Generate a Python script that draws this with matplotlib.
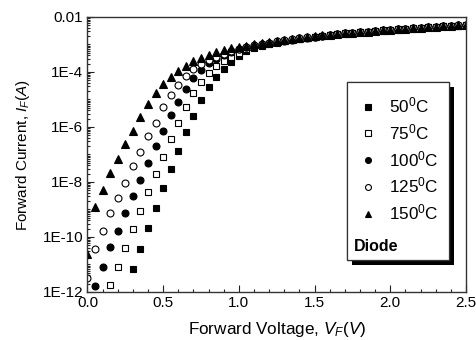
import numpy as np
import matplotlib
matplotlib.use('Agg')
import matplotlib.pyplot as plt
from matplotlib.patches import Rectangle
from matplotlib.ticker import FixedLocator, FixedFormatter, LogLocator, NullFormatter, MultipleLocator
from matplotlib import patheffects

plt.rcParams['font.family'] = ['Liberation Sans', 'DejaVu Sans']
plt.rcParams['mathtext.fontset'] = 'custom'
plt.rcParams['mathtext.rm'] = 'Liberation Sans'
plt.rcParams['mathtext.it'] = 'Liberation Sans:italic'
plt.rcParams['mathtext.bf'] = 'Liberation Sans:bold'

# forward voltage (V), one reading every 0.05 V
voltage = [0.00, 0.05, 0.10, 0.15, 0.20, 0.25, 0.30, 0.35, 0.40, 0.45,
           0.50, 0.55, 0.60, 0.65, 0.70, 0.75, 0.80, 0.85, 0.90, 0.95,
           1.00, 1.05, 1.10, 1.15, 1.20, 1.25, 1.30, 1.35, 1.40, 1.45,
           1.50, 1.55, 1.60, 1.65, 1.70, 1.75, 1.80, 1.85, 1.90, 1.95,
           2.00, 2.05, 2.10, 2.15, 2.20, 2.25, 2.30, 2.35, 2.40, 2.45,
           2.50]

# log10 of forward current (A); nan = below 1E-12
log_i_50 = [np.nan, np.nan, np.nan, np.nan, np.nan, np.nan, -11.15, -10.42, -9.69, -8.96,
            -8.23, -7.53, -6.86, -6.19, -5.60, -5.02, -4.56, -4.19, -3.90, -3.62,
            -3.42, -3.25, -3.13, -3.06, -3.00, -2.94, -2.89, -2.85, -2.80, -2.76,
            -2.72, -2.69, -2.66, -2.63, -2.61, -2.58, -2.56, -2.54, -2.52, -2.50,
            -2.48, -2.46, -2.44, -2.42, -2.40, -2.38, -2.36, -2.34, -2.33, -2.31,
            -2.29]
log_i_75 = [np.nan, np.nan, np.nan, -11.75, -11.08, -10.41, -9.71, -9.04, -8.37, -7.70,
            -7.10, -6.45, -5.84, -5.27, -4.76, -4.36, -4.05, -3.80, -3.60, -3.44,
            -3.30, -3.18, -3.09, -3.03, -2.97, -2.92, -2.87, -2.83, -2.79, -2.75,
            -2.72, -2.68, -2.66, -2.63, -2.60, -2.58, -2.56, -2.53, -2.51, -2.49,
            -2.47, -2.45, -2.43, -2.41, -2.39, -2.38, -2.36, -2.34, -2.32, -2.31,
            -2.29]
log_i_100 = [np.nan, -11.77, -11.08, -10.37, -9.77, -9.14, -8.50, -7.91, -7.31, -6.70,
             -6.14, -5.57, -5.10, -4.62, -4.23, -3.93, -3.69, -3.52, -3.38, -3.27,
             -3.17, -3.10, -3.04, -2.99, -2.94, -2.90, -2.86, -2.82, -2.78, -2.75,
             -2.71, -2.68, -2.65, -2.63, -2.60, -2.58, -2.55, -2.53, -2.51, -2.49,
             -2.47, -2.45, -2.43, -2.41, -2.39, -2.37, -2.35, -2.34, -2.32, -2.30,
             -2.28]
log_i_125 = [-11.50, -10.43, -9.77, -9.14, -8.59, -8.03, -7.42, -6.90, -6.32, -5.84,
             -5.28, -4.85, -4.47, -4.13, -3.90, -3.70, -3.56, -3.44, -3.34, -3.24,
             -3.15, -3.08, -3.02, -2.97, -2.93, -2.89, -2.85, -2.81, -2.77, -2.74,
             -2.71, -2.68, -2.65, -2.62, -2.60, -2.57, -2.55, -2.53, -2.51, -2.49,
             -2.47, -2.45, -2.43, -2.41, -2.39, -2.37, -2.35, -2.33, -2.31, -2.30,
             -2.28]
log_i_150 = [-10.62, -8.92, -8.28, -7.68, -7.16, -6.62, -6.13, -5.65, -5.15, -4.76,
             -4.43, -4.20, -3.96, -3.78, -3.61, -3.48, -3.37, -3.28, -3.20, -3.13,
             -3.08, -3.04, -3.00, -2.96, -2.92, -2.88, -2.84, -2.80, -2.77, -2.73,
             -2.70, -2.67, -2.65, -2.62, -2.60, -2.57, -2.55, -2.53, -2.51, -2.49,
             -2.47, -2.45, -2.43, -2.41, -2.39, -2.37, -2.35, -2.33, -2.31, -2.30,
             -2.28]

series_labels = [r'50$^0$C', r'75$^0$C', r'100$^0$C', r'125$^0$C', r'150$^0$C']
ytick_values = [1e-12, 1e-10, 1e-8, 1e-6, 1e-4, 1e-2]
ytick_labels = ['1E-12', '1E-10', '1E-8', '1E-6', '1E-4', '0.01']
xtick_values = [0.0, 0.5, 1.0, 1.5, 2.0, 2.5]
xtick_labels = ['0.0', '0.5', '1.0', '1.5', '2.0', '2.5']

fig = plt.figure(figsize=(4.76, 3.40), dpi=100)
ax = fig.add_axes([0.1838, 0.1412, 0.7952, 0.8088])

styles = [
    dict(marker='s', ms=4.3, mfc='black', mec='black'),
    dict(marker='s', ms=4.3, mfc='white', mec='black'),
    dict(marker='o', ms=5.0, mfc='black', mec='black'),
    dict(marker='o', ms=5.0, mfc='white', mec='black'),
    dict(marker='^', ms=5.8, mfc='black', mec='black'),
]
all_series = [log_i_50, log_i_75, log_i_100, log_i_125, log_i_150]

handles = []
for vals, st, lab in zip(all_series, styles, series_labels):
    cur = np.power(10.0, np.array(vals))
    h, = ax.plot(voltage, cur, linestyle='none', mew=0.8, label=lab, clip_on=True, **st)
    handles.append(h)

ax.set_yscale('log')
ax.set_xlim(0.0, 2.5)
ax.set_ylim(1e-12, 1e-2)

ax.yaxis.set_major_locator(FixedLocator(ytick_values))
ax.yaxis.set_major_formatter(FixedFormatter(ytick_labels))
ax.yaxis.set_minor_locator(LogLocator(base=10, subs=np.arange(1, 10), numticks=100))
ax.yaxis.set_minor_formatter(NullFormatter())
ax.xaxis.set_major_locator(FixedLocator(xtick_values))
ax.xaxis.set_major_formatter(FixedFormatter(xtick_labels))
ax.xaxis.set_minor_locator(MultipleLocator(0.1))

ax.tick_params(which='both', direction='in', top=False, right=False, width=0.8, color='#222222')
ax.tick_params(which='major', length=5, labelsize=11, pad=3)
ax.tick_params(which='minor', length=2.5)
for sp in ax.spines.values():
    sp.set_linewidth(1.0)
    sp.set_color('#333333')

ax.set_xlabel(r'Forward Voltage, $V_F(V)$', fontsize=12.3, labelpad=7)
ax.set_ylabel(r'Forward Current, $I_F(A)$', fontsize=11, labelpad=8)

# legend box with solid black drop shadow
box = Rectangle((0.686, 0.116), 0.269, 0.648, transform=ax.transAxes,
                facecolor='white', edgecolor='#333333', linewidth=0.9, zorder=5)
box.set_path_effects([patheffects.withSimplePatchShadow(offset=(3.8, -3.4), shadow_rgbFace='black', alpha=1.0),
                      patheffects.Normal()])
ax.add_patch(box)

leg = ax.legend(handles=handles, loc='upper left', bbox_to_anchor=(0.688, 0.757),
                frameon=False, fontsize=12.3, markerscale=0.85, handlelength=1.0,
                handletextpad=0.7, labelspacing=0.40, borderpad=0.2)
leg.set_zorder(6)

ax.text(0.703, 0.167, 'Diode', transform=ax.transAxes, fontsize=11.5, fontweight='bold',
        ha='left', va='center', zorder=7)

fig.savefig('out.png', dpi=100)
plt.close(fig)
